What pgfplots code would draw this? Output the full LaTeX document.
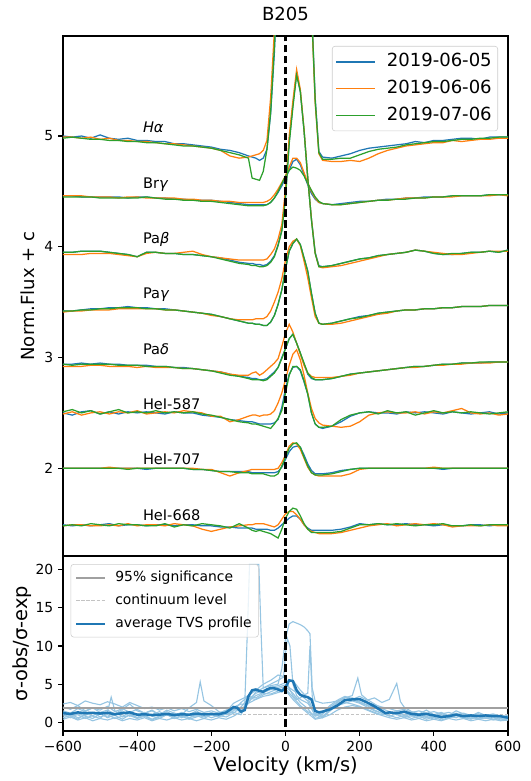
\documentclass[border=0pt]{standalone}
\usepackage{fontspec}
\setmainfont{DejaVu Sans}
\usepackage{pgfplots}
\usepackage{pgfplotstable}
\pgfplotsset{compat=1.18}
\definecolor{c0}{RGB}{31,119,180}
\definecolor{c1}{RGB}{255,127,14}
\definecolor{c2}{RGB}{44,160,44}
\definecolor{tvs}{RGB}{150,197,226}
\definecolor{sig}{RGB}{160,160,160}
\definecolor{cont}{RGB}{195,195,195}

\pgfplotstableread{
v a b c
-600 5.00 4.99 4.98
-575 4.99 4.99 4.99
-550 5.00 4.98 4.98
-525 4.98 4.99 4.97
-500 5.01 4.97 4.97
-475 4.98 4.98 4.96
-450 4.97 4.96 4.96
-425 4.98 4.96 4.95
-400 4.96 4.95 4.95
-375 4.96 4.95 4.94
-350 4.95 4.94 4.94
-325 4.95 4.93 4.93
-300 4.93 4.93 4.92
-275 4.93 4.92 4.91
-250 4.92 4.91 4.91
-225 4.91 4.90 4.90
-200 4.90 4.89 4.89
-175 4.88 4.87 4.87
-150 4.87 4.82 4.85
-125 4.85 4.80 4.83
-100 4.82 4.81 4.80
-90 4.81 4.82 4.62
-80 4.80 4.83 4.61
-70 4.78 4.84 4.60
-60 4.80 4.87 4.68
-50 4.88 4.96 4.88
-40 5.20 5.35 5.22
-30 5.75 5.95 5.80
-20 6.50 6.70 6.55
-10 7.50 7.60 7.50
0 8.00 8.00 8.00
10 8.00 8.00 8.00
20 8.00 8.00 8.00
30 8.00 8.00 8.00
40 8.00 8.00 8.00
50 7.80 7.80 7.80
60 7.00 7.00 7.00
70 6.20 6.15 6.18
80 5.35 5.30 5.32
90 4.86 4.84 4.85
100 4.81 4.78 4.79
125 4.80 4.77 4.79
150 4.82 4.77 4.80
175 4.84 4.78 4.80
200 4.87 4.77 4.83
225 4.89 4.80 4.86
250 4.90 4.84 4.88
275 4.91 4.87 4.89
300 4.92 4.89 4.90
325 4.93 4.91 4.92
350 4.95 4.92 4.93
375 4.94 4.93 4.94
400 4.96 4.94 4.95
425 4.96 4.94 4.95
450 4.97 4.96 4.96
475 4.98 4.95 4.97
500 4.98 4.96 4.97
525 4.97 4.97 4.98
550 4.99 4.97 4.98
575 4.99 4.98 4.99
600 4.99 4.98 4.99
}\Ha

\pgfplotstableread{
v a b c
-600 4.46 4.46 4.45
-575 4.46 4.46 4.45
-550 4.45 4.46 4.45
-525 4.45 4.45 4.45
-500 4.45 4.45 4.44
-475 4.45 4.45 4.44
-450 4.45 4.44 4.44
-425 4.44 4.45 4.44
-400 4.45 4.45 4.44
-375 4.45 4.44 4.45
-350 4.44 4.44 4.44
-325 4.44 4.44 4.43
-300 4.43 4.44 4.43
-275 4.43 4.43 4.42
-250 4.42 4.43 4.42
-225 4.42 4.42 4.41
-200 4.42 4.42 4.41
-175 4.41 4.41 4.40
-150 4.40 4.41 4.39
-125 4.39 4.40 4.38
-100 4.38 4.40 4.37
-90 4.38 4.40 4.37
-80 4.38 4.40 4.37
-70 4.38 4.40 4.37
-60 4.38 4.40 4.37
-50 4.38 4.41 4.38
-40 4.40 4.43 4.40
-30 4.44 4.47 4.44
-20 4.49 4.52 4.50
-10 4.55 4.58 4.57
0 4.62 4.64 4.64
10 4.69 4.72 4.69
20 4.77 4.80 4.72
30 4.79 4.80 4.71
40 4.74 4.76 4.69
50 4.65 4.67 4.64
60 4.56 4.58 4.57
70 4.48 4.50 4.51
80 4.43 4.44 4.45
90 4.40 4.40 4.41
100 4.39 4.39 4.39
125 4.38 4.38 4.38
150 4.39 4.38 4.38
175 4.40 4.39 4.39
200 4.41 4.40 4.40
225 4.41 4.41 4.41
250 4.42 4.42 4.42
275 4.43 4.42 4.42
300 4.43 4.43 4.43
325 4.44 4.44 4.43
350 4.44 4.44 4.44
375 4.45 4.44 4.44
400 4.45 4.45 4.45
425 4.45 4.45 4.45
450 4.46 4.45 4.46
475 4.46 4.46 4.46
500 4.46 4.46 4.46
525 4.46 4.46 4.46
550 4.47 4.46 4.47
575 4.47 4.47 4.47
600 4.47 4.46 4.47
}\Brg

\pgfplotstableread{
v a b c
-600 3.95 3.93 3.95
-575 3.95 3.93 3.95
-550 3.96 3.93 3.96
-525 3.96 3.94 3.96
-500 3.96 3.94 3.96
-475 3.95 3.94 3.95
-450 3.94 3.93 3.94
-425 3.93 3.92 3.93
-400 3.91 3.91 3.91
-375 3.95 3.94 3.95
-350 3.95 3.95 3.95
-325 3.94 3.94 3.94
-300 3.94 3.94 3.94
-275 3.93 3.95 3.93
-250 3.93 3.96 3.93
-225 3.92 3.93 3.92
-200 3.91 3.91 3.91
-175 3.90 3.90 3.89
-150 3.88 3.89 3.87
-125 3.86 3.88 3.85
-100 3.85 3.88 3.84
-90 3.85 3.88 3.83
-80 3.84 3.88 3.83
-70 3.84 3.88 3.82
-60 3.83 3.88 3.82
-50 3.84 3.89 3.83
-40 3.87 3.93 3.86
-30 3.92 3.98 3.91
-20 4.02 4.07 4.01
-10 4.15 4.20 4.14
0 4.45 4.52 4.44
10 4.95 5.00 4.93
20 5.28 5.32 5.26
30 5.57 5.60 5.55
40 5.40 5.42 5.40
50 5.05 5.06 5.05
60 4.62 4.62 4.62
70 4.25 4.25 4.24
80 3.95 3.94 3.94
90 3.83 3.82 3.82
100 3.82 3.81 3.82
125 3.83 3.82 3.83
150 3.85 3.83 3.85
175 3.87 3.85 3.87
200 3.89 3.87 3.89
225 3.90 3.89 3.90
250 3.92 3.91 3.92
275 3.93 3.93 3.93
300 3.94 3.94 3.94
325 3.95 3.95 3.95
350 3.97 3.97 3.97
375 3.96 3.96 3.96
400 3.94 3.95 3.94
425 3.93 3.94 3.93
450 3.93 3.93 3.94
475 3.94 3.93 3.94
500 3.95 3.94 3.95
525 3.95 3.95 3.95
550 3.96 3.96 3.96
575 3.95 3.96 3.95
600 3.97 3.96 3.97
}\Pab

\pgfplotstableread{
v a b c
-600 3.42 3.41 3.42
-575 3.42 3.42 3.42
-550 3.43 3.42 3.43
-525 3.44 3.43 3.43
-500 3.44 3.43 3.44
-475 3.45 3.43 3.44
-450 3.45 3.44 3.45
-425 3.46 3.44 3.45
-400 3.45 3.44 3.45
-375 3.45 3.44 3.44
-350 3.44 3.44 3.44
-325 3.44 3.43 3.43
-300 3.43 3.43 3.43
-275 3.42 3.42 3.42
-250 3.41 3.41 3.41
-225 3.40 3.40 3.40
-200 3.39 3.38 3.39
-175 3.37 3.37 3.37
-150 3.35 3.35 3.35
-125 3.33 3.34 3.33
-100 3.31 3.34 3.31
-90 3.31 3.34 3.31
-80 3.30 3.35 3.30
-70 3.30 3.35 3.30
-60 3.29 3.35 3.29
-50 3.29 3.37 3.29
-40 3.32 3.42 3.32
-30 3.38 3.50 3.38
-20 3.48 3.59 3.48
-10 3.61 3.71 3.61
0 3.80 3.88 3.80
10 3.96 4.00 3.96
20 4.03 4.05 4.03
30 4.07 4.07 4.07
40 4.02 4.01 4.02
50 3.90 3.87 3.90
60 3.78 3.72 3.78
70 3.58 3.54 3.58
80 3.40 3.37 3.40
90 3.31 3.31 3.31
100 3.30 3.30 3.30
125 3.31 3.30 3.31
150 3.33 3.31 3.33
175 3.35 3.33 3.35
200 3.37 3.35 3.36
225 3.38 3.37 3.38
250 3.40 3.39 3.40
275 3.41 3.40 3.41
300 3.42 3.42 3.42
325 3.43 3.43 3.43
350 3.43 3.43 3.43
375 3.44 3.44 3.44
400 3.44 3.44 3.44
425 3.45 3.45 3.45
450 3.45 3.45 3.45
475 3.46 3.46 3.46
500 3.46 3.46 3.46
525 3.46 3.46 3.46
550 3.47 3.47 3.47
575 3.47 3.47 3.47
600 3.47 3.47 3.47
}\Pag

\pgfplotstableread{
v a b c
-600 2.94 2.92 2.94
-575 2.94 2.92 2.93
-550 2.95 2.92 2.94
-525 2.94 2.93 2.94
-500 2.95 2.93 2.94
-475 2.94 2.92 2.94
-450 2.94 2.92 2.93
-425 2.93 2.92 2.93
-400 2.93 2.91 2.93
-375 2.93 2.92 2.92
-350 2.92 2.91 2.92
-325 2.92 2.91 2.92
-300 2.91 2.91 2.91
-275 2.91 2.90 2.90
-250 2.90 2.90 2.90
-225 2.89 2.89 2.89
-200 2.88 2.88 2.88
-175 2.87 2.87 2.86
-150 2.85 2.85 2.84
-125 2.83 2.84 2.83
-100 2.82 2.84 2.81
-90 2.81 2.86 2.80
-80 2.81 2.87 2.80
-70 2.80 2.84 2.80
-60 2.80 2.86 2.79
-50 2.81 2.89 2.80
-40 2.84 2.92 2.83
-30 2.87 2.95 2.86
-20 2.91 2.99 2.91
-10 3.00 3.10 2.99
0 3.08 3.22 3.08
10 3.17 3.30 3.17
20 3.21 3.23 3.21
30 3.13 3.13 3.13
40 3.04 3.03 3.04
50 2.94 2.93 2.95
60 2.85 2.86 2.86
70 2.81 2.83 2.82
80 2.80 2.82 2.80
90 2.80 2.82 2.80
100 2.80 2.82 2.80
125 2.81 2.82 2.81
150 2.83 2.83 2.83
175 2.85 2.84 2.85
200 2.86 2.86 2.86
225 2.87 2.87 2.87
250 2.88 2.88 2.88
275 2.89 2.89 2.89
300 2.90 2.90 2.90
325 2.91 2.91 2.91
350 2.92 2.91 2.92
375 2.92 2.92 2.92
400 2.93 2.93 2.93
425 2.94 2.93 2.94
450 2.94 2.94 2.94
475 2.95 2.94 2.95
500 2.95 2.95 2.95
525 2.95 2.95 2.96
550 2.96 2.95 2.96
575 2.96 2.96 2.96
600 2.96 2.96 2.96
}\Pad

\pgfplotstableread{
v a b c
-600 2.50 2.49 2.51
-575 2.48 2.51 2.53
-550 2.51 2.48 2.50
-525 2.52 2.50 2.52
-500 2.49 2.51 2.49
-475 2.51 2.49 2.51
-450 2.49 2.51 2.53
-425 2.51 2.50 2.50
-400 2.50 2.52 2.51
-375 2.51 2.49 2.50
-350 2.50 2.50 2.52
-325 2.49 2.51 2.50
-300 2.51 2.50 2.51
-275 2.50 2.52 2.50
-250 2.50 2.51 2.51
-225 2.48 2.50 2.49
-200 2.47 2.47 2.48
-175 2.46 2.47 2.46
-150 2.44 2.42 2.44
-125 2.43 2.44 2.42
-100 2.42 2.47 2.41
-90 2.42 2.48 2.40
-80 2.41 2.48 2.40
-70 2.40 2.47 2.39
-60 2.40 2.48 2.38
-50 2.40 2.48 2.37
-40 2.40 2.49 2.36
-30 2.41 2.52 2.40
-20 2.44 2.59 2.45
-10 2.55 2.68 2.52
0 2.72 2.80 2.68
10 2.85 2.93 2.84
20 2.91 3.03 2.92
30 2.92 3.07 2.92
40 2.88 2.98 2.89
50 2.78 2.84 2.79
60 2.67 2.68 2.67
70 2.50 2.54 2.50
80 2.40 2.45 2.40
90 2.37 2.41 2.37
100 2.36 2.39 2.37
125 2.38 2.38 2.38
150 2.42 2.37 2.44
175 2.47 2.38 2.48
200 2.50 2.42 2.50
225 2.51 2.48 2.51
250 2.50 2.50 2.49
275 2.50 2.51 2.52
300 2.49 2.50 2.50
325 2.51 2.50 2.51
350 2.50 2.51 2.48
375 2.51 2.49 2.50
400 2.50 2.51 2.52
425 2.49 2.50 2.50
450 2.51 2.52 2.51
475 2.50 2.54 2.50
500 2.49 2.50 2.51
525 2.50 2.49 2.50
550 2.51 2.50 2.49
575 2.49 2.48 2.50
600 2.50 2.49 2.51
}\HeA

\pgfplotstableread{
v a b c
-600 2.00 2.00 2.00
-575 2.00 2.00 2.00
-550 2.00 2.00 2.00
-525 2.00 2.00 2.00
-500 2.00 2.00 2.00
-475 2.00 2.01 2.00
-450 2.00 2.00 2.00
-425 2.00 2.00 1.99
-400 2.00 2.00 2.00
-375 1.99 2.00 2.00
-350 2.00 2.00 2.00
-325 2.00 2.00 2.00
-300 2.00 2.00 2.00
-275 2.00 2.00 2.00
-250 1.99 2.00 1.99
-225 1.99 1.99 1.99
-200 1.98 1.99 1.98
-175 1.97 1.96 1.97
-150 1.97 1.93 1.97
-125 1.97 1.96 1.96
-100 1.97 1.98 1.96
-90 1.96 1.99 1.95
-80 1.96 1.99 1.95
-70 1.96 1.99 1.95
-60 1.96 1.99 1.95
-50 1.96 1.99 1.94
-40 1.96 1.99 1.93
-30 1.96 1.99 1.93
-20 1.97 2.00 1.95
-10 2.01 2.05 2.02
0 2.08 2.12 2.10
10 2.15 2.20 2.18
20 2.19 2.23 2.22
30 2.20 2.22 2.23
40 2.19 2.17 2.19
50 2.12 2.09 2.10
60 2.04 2.01 2.02
70 1.98 1.96 1.96
80 1.95 1.94 1.94
90 1.95 1.93 1.94
100 1.95 1.93 1.94
125 1.96 1.93 1.95
150 1.98 1.93 1.97
175 1.99 1.95 1.99
200 2.00 1.99 2.00
225 2.00 2.00 2.00
250 2.00 2.00 2.00
275 2.00 2.00 2.00
300 2.00 2.00 2.00
325 2.00 2.00 2.00
350 2.00 2.00 2.00
375 2.00 2.00 2.00
400 2.00 2.01 2.00
425 1.99 2.00 2.00
450 2.00 2.00 2.00
475 2.00 2.00 2.00
500 2.00 2.00 2.00
525 2.00 2.00 2.00
550 2.00 2.00 2.00
575 2.00 2.00 2.00
600 2.00 2.00 2.00
}\HeB

\pgfplotstableread{
v a b c
-600 1.49 1.48 1.48
-575 1.48 1.49 1.49
-550 1.49 1.49 1.48
-525 1.48 1.48 1.50
-500 1.49 1.48 1.49
-475 1.50 1.49 1.48
-450 1.48 1.48 1.50
-425 1.49 1.50 1.49
-400 1.49 1.48 1.49
-375 1.48 1.49 1.48
-350 1.49 1.49 1.48
-325 1.49 1.48 1.50
-300 1.48 1.50 1.47
-275 1.49 1.49 1.49
-250 1.49 1.48 1.48
-225 1.48 1.45 1.50
-200 1.48 1.43 1.49
-175 1.47 1.45 1.48
-150 1.47 1.47 1.46
-125 1.46 1.48 1.50
-100 1.46 1.49 1.46
-90 1.46 1.49 1.44
-80 1.45 1.50 1.43
-70 1.45 1.50 1.44
-60 1.45 1.50 1.43
-50 1.45 1.49 1.42
-40 1.44 1.48 1.41
-30 1.44 1.47 1.39
-20 1.46 1.49 1.37
-10 1.49 1.54 1.45
0 1.52 1.59 1.55
10 1.55 1.61 1.61
20 1.57 1.61 1.64
30 1.57 1.58 1.63
40 1.54 1.54 1.57
50 1.49 1.49 1.50
60 1.46 1.45 1.45
70 1.44 1.43 1.42
80 1.44 1.42 1.42
90 1.44 1.41 1.42
100 1.44 1.41 1.42
125 1.44 1.41 1.42
150 1.45 1.42 1.43
175 1.47 1.44 1.46
200 1.50 1.46 1.49
225 1.49 1.48 1.49
250 1.50 1.49 1.50
275 1.49 1.50 1.49
300 1.49 1.48 1.50
325 1.50 1.49 1.49
350 1.49 1.50 1.48
375 1.49 1.49 1.49
400 1.48 1.50 1.49
425 1.49 1.49 1.50
450 1.48 1.47 1.48
475 1.48 1.48 1.48
500 1.49 1.48 1.49
525 1.49 1.48 1.48
550 1.48 1.49 1.49
575 1.49 1.48 1.49
600 1.49 1.48 1.49
}\HeC

\newcommand{\three}[1]{%
\addplot[c0, line width=0.9pt, forget plot] table[x=v,y=a]{#1};
\addplot[c1, line width=0.9pt, forget plot] table[x=v,y=b]{#1};
\addplot[c2, line width=0.9pt, forget plot] table[x=v,y=c]{#1};}

\pgfplotsset{
  mpl/.style={
    scale only axis, width=320.4pt, xmin=-600, xmax=600,
    tick pos=left, tick align=outside, major tick length=3.5pt,
    every tick/.style={black, line width=0.8pt},
    axis line style={line width=0.8pt},
    tick label style={font=\fontsize{10}{12}\selectfont},
  }
}

\begin{document}
\begin{tikzpicture}
% ---------------- bottom panel (TVS) ----------------
\begin{axis}[mpl, at={(0,0)}, anchor=south west, height=126pt,
  ymin=-1.14, ymax=21.8,
  xtick={-600,-400,-200,0,200,400,600},
  xticklabels={−600,−400,−200,0,200,400,600},
  ytick={0,5,10,15,20}, yticklabels={0,5,10,15,20},
  xlabel={Velocity (km/s)},
  xlabel style={font=\fontsize{14}{16}\selectfont, at={(axis description cs:0.5,0)}, anchor=base, yshift=-29pt},
  ylabel={σ-obs/σ-exp},
  ylabel style={font=\fontsize{14}{16}\selectfont, at={(axis description cs:-0.0928,0.5)}, anchor=center},
  legend style={at={(0,1)}, anchor=north west, xshift=5.5pt, yshift=-5.8pt,
    draw=black!20, rounded corners=2pt, fill=white, fill opacity=0.8, draw opacity=1, text opacity=1,
    font=\fontsize{10}{12}\selectfont, inner xsep=2.8pt, inner ysep=2.85pt, row sep=3.1pt, column sep=4.4pt,
    nodes={inner sep=2pt, text height=7.5pt, text depth=2pt}},
  legend cell align=left,
  legend image code/.code={\draw[#1] (0pt,0pt) -- (21pt,0pt);},
]
\addlegendimage{draw=sig, line width=1.2pt}
\addlegendentry{95\% significance}
\addlegendimage{draw=cont, line width=0.6pt, dash pattern=on 2.5pt off 1.2pt}
\addlegendentry{continuum level}
\addlegendimage{draw=c0, line width=1.8pt}
\addlegendentry{average TVS profile}

\addplot[cont, line width=0.6pt, dash pattern=on 2.5pt off 1.2pt, forget plot] coordinates {(-600,1) (600,1)};

\addplot[tvs, line width=0.8pt, forget plot] coordinates {(-600,2.4) (-580,2.6) (-560,2.2) (-540,2.8) (-520,2.5) (-500,2.3) (-480,2.7) (-460,2.4) (-440,2.0) (-420,2.6) (-400,2.2) (-380,1.8) (-360,2.0) (-340,1.6) (-320,1.9) (-300,1.5) (-280,1.8) (-260,1.4) (-240,1.7) (-220,1.3) (-200,1.5) (-180,1.2) (-160,1.6) (-140,2.0) (-120,2.4) (-110,2.3) (-102,13.0) (-97,20.7) (-72,20.7) (-66,12.0) (-60,4.5) (-40,4.8) (-20,5.0) (-10,7.0) (0,11.0) (10,12.9) (20,13.2) (30,13.0) (40,12.8) (50,12.5) (60,12.0) (66,11.6) (72,4.5) (80,2.8) (100,2.5) (120,2.6) (140,2.8) (160,3.0) (180,3.2) (200,2.9) (220,2.6) (240,2.3) (260,2.0) (280,1.8) (300,1.5) (320,1.7) (340,1.3) (360,1.5) (380,1.2) (400,1.4) (420,1.1) (440,1.3) (460,1.0) (480,1.2) (500,0.9) (520,1.1) (540,0.8) (560,1.0) (580,0.7) (600,0.9)};

\addplot[tvs, line width=0.8pt, forget plot] coordinates {(-600,1.0) (-580,0.6) (-560,1.2) (-540,0.8) (-520,0.5) (-500,1.1) (-480,0.7) (-460,0.9) (-440,0.4) (-420,1.0) (-400,0.6) (-380,1.3) (-360,0.8) (-340,0.5) (-320,1.0) (-300,0.7) (-280,1.2) (-260,0.6) (-240,0.9) (-220,0.5) (-200,1.0) (-180,0.7) (-160,1.1) (-140,1.8) (-120,1.5) (-100,2.5) (-80,4.0) (-60,4.5) (-40,5.0) (-20,5.5) (-10,5.8) (0,6.0) (10,4.5) (20,3.5) (30,3.0) (40,3.2) (50,3.6) (60,3.8) (66,10.0) (72,3.5) (80,1.5) (100,1.2) (120,1.8) (140,2.5) (160,2.8) (180,3.0) (200,2.6) (220,2.2) (240,1.6) (260,1.2) (280,0.8) (300,1.1) (320,0.6) (340,0.9) (360,0.5) (380,0.8) (400,0.4) (420,0.7) (440,0.5) (460,0.9) (480,0.6) (500,0.4) (520,0.8) (540,0.5) (560,0.7) (580,0.3) (600,0.5)};

\addplot[tvs, line width=0.8pt, forget plot] coordinates {(-600,1.5) (-580,1.2) (-560,1.8) (-540,1.4) (-520,1.9) (-500,1.3) (-480,1.6) (-460,1.1) (-440,1.7) (-420,2.4) (-400,1.5) (-380,1.2) (-360,1.6) (-340,1.0) (-320,1.4) (-300,0.9) (-280,1.3) (-260,1.0) (-240,1.5) (-220,0.8) (-200,1.2) (-180,0.9) (-160,1.4) (-140,2.5) (-120,3.0) (-100,3.5) (-80,4.2) (-60,5.0) (-40,5.5) (-20,6.2) (-5,6.0) (0,9.0) (5,11.0) (12,10.0) (20,5.0) (30,3.5) (40,3.0) (60,2.5) (80,1.2) (100,0.8) (120,1.5) (140,2.2) (160,2.6) (180,2.4) (200,2.1) (220,1.7) (240,1.3) (260,1.0) (280,1.4) (300,1.0) (320,0.7) (340,1.2) (360,0.8) (380,1.1) (400,0.6) (420,1.0) (440,0.7) (460,1.2) (480,0.8) (500,0.5) (520,0.9) (540,0.6) (560,1.0) (580,0.7) (600,0.4)};

\addplot[tvs, line width=0.8pt, forget plot] coordinates {(-600,0.8) (-580,1.1) (-560,0.6) (-540,0.9) (-520,1.3) (-500,0.7) (-480,1.0) (-460,0.5) (-440,0.8) (-420,1.2) (-400,0.6) (-380,0.9) (-360,0.4) (-340,0.8) (-320,1.1) (-300,0.5) (-280,0.9) (-260,0.6) (-240,1.0) (-220,0.7) (-200,1.1) (-180,0.8) (-160,1.2) (-140,1.7) (-120,1.4) (-100,3.0) (-80,3.8) (-60,4.2) (-40,4.6) (-20,4.8) (0,5.2) (20,5.5) (40,4.2) (60,3.2) (80,1.0) (100,0.6) (120,1.5) (140,2.6) (160,3.2) (180,3.5) (195,5.8) (205,3.6) (220,3.0) (240,2.4) (260,1.8) (280,1.4) (300,1.0) (320,1.3) (340,0.8) (360,1.0) (380,0.6) (400,0.9) (420,0.5) (440,0.8) (460,0.6) (480,1.0) (500,0.7) (520,0.5) (540,0.8) (560,0.4) (580,0.7) (600,0.5)};

\addplot[tvs, line width=0.8pt, forget plot] coordinates {(-600,2.0) (-580,1.7) (-560,2.2) (-540,1.5) (-520,1.9) (-500,1.6) (-480,2.1) (-460,1.4) (-440,1.8) (-420,1.3) (-400,1.7) (-380,1.2) (-360,1.5) (-340,1.0) (-320,1.6) (-300,1.2) (-280,1.0) (-260,1.9) (-240,2.6) (-230,5.3) (-220,2.8) (-200,2.2) (-180,1.4) (-160,1.1) (-140,1.3) (-120,1.0) (-100,2.8) (-80,3.5) (-60,3.9) (-40,4.3) (-20,4.6) (0,4.9) (20,4.2) (40,3.6) (60,2.8) (80,0.8) (100,1.1) (120,2.0) (140,2.7) (160,3.3) (180,3.0) (200,3.4) (220,2.9) (240,3.2) (260,2.6) (280,3.0) (300,5.1) (310,2.7) (320,2.0) (340,1.4) (360,1.1) (380,1.6) (400,1.0) (420,1.3) (440,0.9) (460,1.5) (480,1.1) (500,0.8) (520,1.3) (540,0.9) (560,1.1) (580,0.8) (600,0.6)};

\addplot[tvs, line width=0.8pt, forget plot] coordinates {(-600,0.6) (-580,0.9) (-560,0.4) (-540,1.2) (-520,0.8) (-500,0.5) (-480,1.4) (-470,3.3) (-460,1.5) (-440,0.7) (-420,0.9) (-400,0.5) (-380,0.8) (-360,0.3) (-340,0.7) (-320,1.0) (-300,0.5) (-280,0.8) (-260,0.4) (-240,0.7) (-220,1.0) (-200,0.6) (-180,0.9) (-160,0.7) (-140,1.2) (-120,2.0) (-100,3.2) (-80,3.0) (-60,3.6) (-40,4.0) (-20,4.4) (0,4.7) (20,3.8) (40,2.6) (60,1.8) (80,0.5) (100,0.8) (120,1.6) (140,2.2) (160,2.5) (180,2.8) (200,2.5) (220,2.0) (240,1.5) (260,1.2) (280,0.9) (300,0.6) (320,0.9) (340,0.5) (360,0.8) (380,0.4) (400,0.7) (420,0.3) (440,0.6) (460,0.9) (480,0.5) (500,0.7) (520,0.4) (540,0.6) (560,0.3) (580,0.5) (600,0.3)};

\addplot[tvs, line width=0.8pt, forget plot] coordinates {(-600,1.3) (-580,0.8) (-560,1.0) (-540,0.5) (-520,0.9) (-500,1.2) (-480,0.6) (-460,1.0) (-440,1.5) (-420,0.8) (-400,1.1) (-380,0.7) (-360,1.0) (-340,1.4) (-320,0.9) (-300,1.2) (-280,0.6) (-260,1.0) (-240,0.8) (-220,1.2) (-200,0.9) (-180,1.3) (-160,1.0) (-140,1.5) (-120,2.6) (-100,3.4) (-80,3.2) (-60,3.8) (-40,3.7) (-20,4.1) (0,4.4) (20,3.3) (40,2.2) (60,1.4) (80,0.9) (100,1.3) (120,2.2) (140,2.9) (160,3.4) (180,3.1) (200,2.7) (220,2.3) (240,1.9) (260,1.4) (280,1.1) (300,1.4) (320,0.9) (340,1.2) (360,0.7) (380,1.0) (400,0.8) (420,1.2) (440,0.7) (460,1.0) (480,0.6) (500,0.9) (520,1.1) (540,0.6) (560,0.9) (580,0.5) (600,0.8)};

\addplot[tvs, line width=0.8pt, forget plot] coordinates {(-600,0.4) (-580,0.7) (-560,0.3) (-540,0.6) (-520,0.2) (-500,0.5) (-480,0.3) (-460,0.6) (-440,0.2) (-420,0.5) (-400,0.3) (-380,0.6) (-360,0.2) (-340,0.5) (-320,0.3) (-300,0.6) (-280,0.3) (-260,0.5) (-240,0.2) (-220,0.5) (-200,0.3) (-180,0.6) (-160,0.4) (-140,0.8) (-120,1.4) (-100,2.5) (-80,3.0) (-60,3.4) (-40,3.6) (-20,3.9) (0,4.2) (20,3.0) (40,2.0) (60,1.2) (80,0.4) (100,0.6) (120,1.0) (140,1.6) (160,2.0) (180,2.2) (200,2.0) (220,1.6) (240,1.2) (260,0.9) (280,0.6) (300,0.4) (320,0.6) (340,0.3) (360,0.5) (380,0.2) (400,0.4) (420,0.2) (440,0.5) (460,0.3) (480,0.5) (500,0.2) (520,0.4) (540,0.2) (560,0.4) (580,0.2) (600,0.3)};

\addplot[sig, line width=1.2pt, forget plot] coordinates {(-600,1.9) (600,1.9)};

\addplot[c0, line width=1.8pt, forget plot] coordinates {(-600,1.2) (-580,1.1) (-560,1.3) (-540,1.2) (-520,1.25) (-500,1.15) (-480,1.25) (-460,1.05) (-440,1.2) (-420,1.3) (-400,1.0) (-380,1.05) (-360,0.95) (-340,1.0) (-320,1.1) (-300,0.95) (-280,1.05) (-260,1.0) (-240,1.15) (-220,1.05) (-200,1.1) (-180,1.05) (-160,1.3) (-140,2.0) (-130,1.9) (-120,1.4) (-110,1.6) (-100,3.4) (-90,4.2) (-80,4.3) (-70,4.1) (-60,4.0) (-50,4.3) (-40,4.5) (-30,4.45) (-20,4.3) (-10,4.1) (0,4.6) (10,5.5) (20,5.4) (30,4.2) (40,3.6) (50,3.4) (60,3.3) (70,3.0) (80,1.5) (90,1.3) (100,1.4) (120,1.7) (140,2.2) (160,2.9) (180,3.0) (200,3.05) (220,2.6) (240,2.1) (260,1.5) (270,1.2) (280,1.3) (300,1.2) (320,1.4) (340,1.1) (360,1.0) (380,1.1) (400,0.9) (420,0.7) (440,0.8) (460,1.0) (480,0.8) (500,0.9) (520,0.8) (540,0.9) (560,0.8) (580,0.8) (600,0.6)};

\addplot[black, line width=1.5pt, dash pattern=on 5.5pt off 2.4pt, forget plot] coordinates {(0,-2) (0,23)};
\end{axis}

% ---------------- top panel (profiles) ----------------
\begin{axis}[mpl, at={(0,126pt)}, anchor=south west, height=374.4pt,
  ymin=1.208, ymax=5.903,
  xtick=\empty,
  ytick={2,3,4,5}, yticklabels={2,3,4,5},
  title={B205},
  title style={font=\fontsize{13}{15}\selectfont, at={(0.5,1)}, anchor=base, yshift=5.5pt},
  ylabel={Norm.Flux + c},
  ylabel style={font=\fontsize{13}{15}\selectfont, at={(axis description cs:-0.0799,0.5)}, anchor=center},
  legend style={at={(1,1)}, anchor=north east, xshift=-7.2pt, yshift=-7.2pt,
    draw=black!20, rounded corners=2pt, fill=white, fill opacity=0.8, draw opacity=1, text opacity=1,
    font=\fontsize{13}{15}\selectfont, inner xsep=2.3pt, inner ysep=3.1pt, row sep=2.85pt, column sep=6pt,
    nodes={inner sep=2pt, text height=9.75pt, text depth=2.6pt}},
  legend cell align=left,
  legend image code/.code={\draw[#1] (0pt,0pt) -- (28pt,0pt);},
]
\addlegendimage{draw=c0, line width=1pt}
\addlegendentry{2019-06-05}
\addlegendimage{draw=c1, line width=1pt}
\addlegendentry{2019-06-06}
\addlegendimage{draw=c2, line width=1pt}
\addlegendentry{2019-07-06}

\three{\Ha}
\three{\Brg}
\three{\Pab}
\three{\Pag}
\three{\Pad}
\three{\HeA}
\three{\HeB}
\three{\HeC}

\addplot[black, line width=1.5pt, dash pattern=on 5.5pt off 2.4pt, forget plot] coordinates {(0,1) (0,6)};

\begin{scope}[every node/.style={anchor=base west, inner sep=0pt, font=\fontsize{10.5}{12}\selectfont}]
\node at (axis cs:-385,5.03) {{\itshape Hα}};
\node at (axis cs:-385,4.53) {Br{\itshape γ}};
\node at (axis cs:-385,4.03) {Pa{\itshape β}};
\node at (axis cs:-385,3.53) {Pa{\itshape γ}};
\node at (axis cs:-385,3.03) {Pa{\itshape δ}};
\node at (axis cs:-385,2.53) {HeI-587};
\node at (axis cs:-385,2.03) {HeI-707};
\node at (axis cs:-385,1.53) {HeI-668};
\end{scope}
\end{axis}

\pgfresetboundingbox
\path[use as bounding box] (-45.36pt,-36pt) rectangle (336.96pt,526.32pt);
\end{tikzpicture}
\end{document}
